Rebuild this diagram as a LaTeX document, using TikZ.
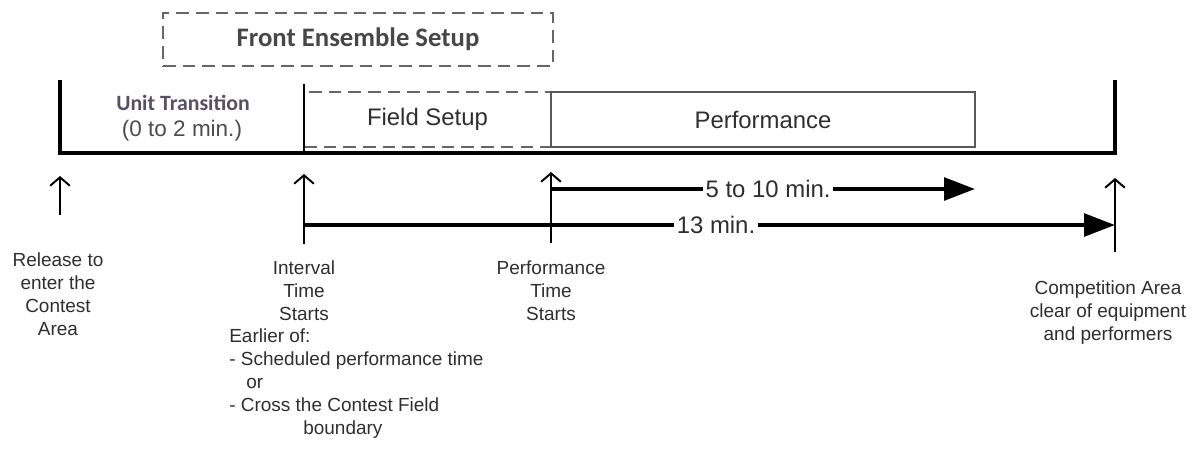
\documentclass[tikz,border=0pt]{standalone}
\usepackage{fontspec}
\setmainfont{Liberation Sans}
\newfontfamily\calibri{Carlito}
\usetikzlibrary{positioning, arrows.meta}
\definecolor{unitgray}{RGB}{88,80,98}

\begin{document}
\begin{tikzpicture}[
  x=0.025cm, y=-0.025cm,
  >=Stealth,
  every node/.style={text=black!82},
  lbl/.style={font=\fontsize{13.5}{16.5}\selectfont, align=center, inner sep=0pt},
  boxlbl/.style={font=\fontsize{17}{20}\selectfont, inner sep=0pt},
  dashbox/.style={draw=black!60, dashed, dash pattern=on 9pt off 5pt, line width=1.3pt, inner sep=0pt},
  upmark/.style={line width=1.4pt, -{Straight Barb[length=6pt, width=14pt, line width=1.4pt]}},
  span/.style={line width=3pt, -{Triangle[length=22pt, width=16pt]}}
]
\useasboundingbox (0,0) rectangle (1197,449);

% Setup boxes
\node[dashbox, minimum width=9.75cm, minimum height=1.325cm] (front) at (358,39.5) {};
\node[font=\calibri\fontsize{19}{22}\selectfont\bfseries, text=black!72] at (front.center) {Front Ensemble Setup};
\node[dashbox, minimum width=6.175cm, minimum height=1.375cm] (field) at (427.5,119.5) {};
\node[boxlbl] at (field.center) {Field Setup};
\node[draw=black!65, line width=1.3pt, minimum width=10.6cm, minimum height=1.375cm, inner sep=0pt] (perf) at (763,119.5) {};
\node[boxlbl] at (perf.center) {Performance};

% Unit transition
\node[font=\calibri\fontsize{15.5}{19}\selectfont\bfseries, text=unitgray] (unit) at (183,103) {Unit Transition};
\node[font=\fontsize{16}{19}\selectfont, text=black!70] (unittime) at (182,131) {(0 to 2 min.)};

% Timeline
\coordinate (relTop) at (60,80);
\coordinate (relBot) at (60,153);
\coordinate (intTop) at (304,84);
\coordinate (intBot) at (304,153);
\coordinate (endTop) at (1115,80);
\coordinate (endBot) at (1115,153);
\draw[line width=3pt] (relTop) -- (relBot) -- (endBot) -- (endTop);
\draw[line width=1.5pt] (intTop) -- (intBot);

% Markers
\coordinate (relTip) at (60,176);
\coordinate (intTip) at (304,174);
\coordinate (perfTip) at (551,172);
\coordinate (endTip) at (1115,178);
\draw[upmark] (60,215) -- (relTip);
\draw[upmark] (304,244) -- (intTip);
\draw[upmark] (551,243) -- (perfTip);
\draw[upmark] (1115,252) -- (endTip);

% Durations
\draw[span] (551,189) -- node[pos=0.512, fill=white, boxlbl, inner xsep=2pt] {5 to 10 min.} (975,189);
\draw[span] (304,225) -- node[pos=0.508, fill=white, boxlbl, inner xsep=2pt] {13 min.} (1115,225);

% Labels
\node[lbl, anchor=north] (release) at (58,252) {Release to\\enter the\\Contest\\Area};
\node[lbl, anchor=north] (interval) at (304,260) {Interval\\Time\\Starts};
\node[lbl, anchor=north] (perfstart) at (551,260) {Performance\\Time\\Starts};
\node[lbl, anchor=north] (clear) at (1108,280) {Competition Area\\clear of equipment\\and performers};
\node[lbl, anchor=north west, align=left] (earlier) at (229,328)
  {Earlier of:\\- Scheduled performance time\\\hspace*{0.9em}or\\- Cross the Contest Field\\\hspace*{3.9em}boundary};
\end{tikzpicture}
\end{document}
